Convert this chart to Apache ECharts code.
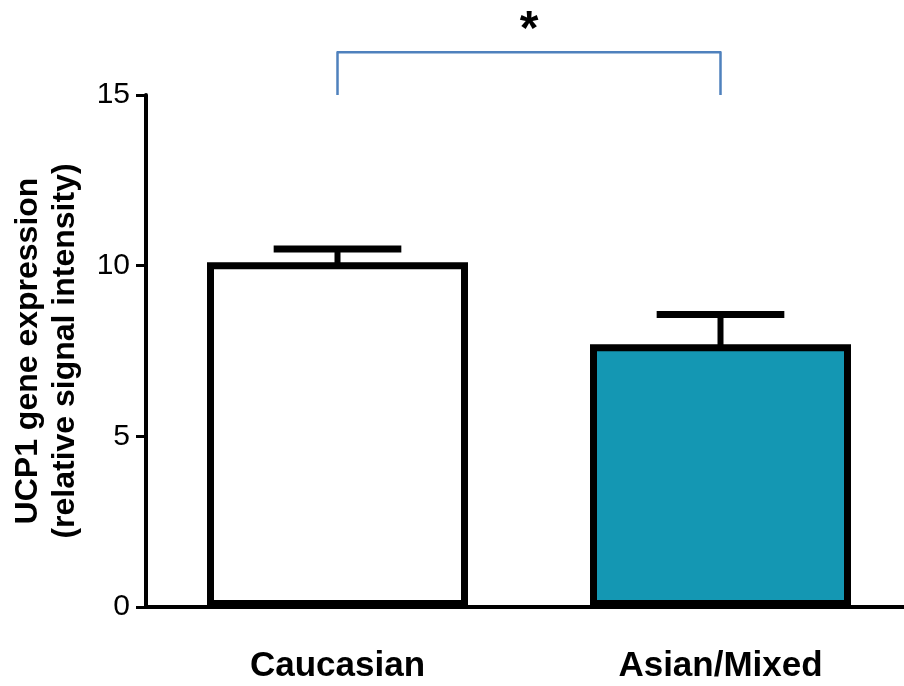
<!DOCTYPE html>
<html>
<head>
<meta charset="utf-8">
<script src="https://cdn.jsdelivr.net/npm/echarts@6/dist/echarts.min.js"></script>
<style>
  html, body { margin: 0; padding: 0; background: #fff; }
  #chart { width: 904px; height: 686px; }
</style>
</head>
<body>
<div id="chart"></div>
<script>
// data
const groups = ['Caucasian', 'Asian/Mixed'];
const means = [10.1, 7.7];
const sems = [0.39, 0.87];
const barFills = ['#ffffff', '#1497b3'];
const yTicks = [0, 5, 10, 15];
// significance bracket: from group 0 to group 1, legs start at 15, top at 16.25
const sigGroups = [0, 1];
const sigLevels = [15, 16.25];
const sigMark = '*';

const font = "'Liberation Sans', Arial, sans-serif";

const chart = echarts.init(document.getElementById('chart'));

chart.setOption({
  animation: false,
  backgroundColor: '#fff',
  grid: { left: 146, right: -8, top: 95, bottom: 79, outerBoundsMode: 'none', containLabel: false },
  xAxis: {
    type: 'category',
    data: groups,
    z: 5,
    axisLine: { show: true, lineStyle: { color: '#000', width: 4 } },
    axisTick: { show: false },
    axisLabel: {
      color: '#000',
      fontFamily: font,
      fontWeight: 'bold',
      fontSize: 35,
      margin: 42,
    },
  },
  yAxis: {
    type: 'value',
    min: yTicks[0],
    max: yTicks[yTicks.length - 1],
    interval: yTicks[1] - yTicks[0],
    name: 'UCP1 gene expression\n(relative signal intensity)',
    nameLocation: 'middle',
    nameGap: 62,
    nameTextStyle: {
      color: '#000',
      fontFamily: font,
      fontWeight: 'bold',
      fontSize: 32,
      lineHeight: 37,
    },
    axisLine: { show: true, lineStyle: { color: '#000', width: 4 } },
    axisTick: { show: true, length: 10, lineStyle: { color: '#000', width: 3 } },
    axisLabel: { color: '#000', fontFamily: font, fontSize: 30, margin: 16 },
    splitLine: { show: false },
  },
  series: [
    {
      type: 'bar',
      barWidth: 261,
      data: means.map((v, i) => ({
        value: v,
        itemStyle: { color: barFills[i], borderColor: '#000', borderWidth: 7 },
      })),
      z: 2,
    },
    {
      // error bars (mean + SEM, upper only)
      type: 'custom',
      z: 3,
      data: means.map((m, i) => [i, m, m + sems[i]]),
      renderItem: (params, api) => {
        const i = api.value(0);
        const base = api.coord([i, api.value(1)]);
        const top = api.coord([i, api.value(2)]);
        const band = api.size([1, 0])[0];
        const half = band / 6;
        return {
          type: 'group',
          children: [
            {
              type: 'line',
              shape: { x1: base[0], y1: base[1] + 4, x2: top[0], y2: top[1] },
              style: { stroke: '#000', lineWidth: 6 },
            },
            {
              type: 'line',
              shape: { x1: top[0] - half, y1: top[1], x2: top[0] + half, y2: top[1] },
              style: { stroke: '#000', lineWidth: 7 },
            },
          ],
        };
      },
    },
    {
      // significance bracket
      type: 'custom',
      z: 3,
      clip: false,
      data: [[sigGroups[0], sigGroups[1], sigLevels[0], sigLevels[1]]],
      renderItem: (params, api) => {
        const a0 = api.coord([api.value(0), api.value(2)]);
        const a1 = api.coord([api.value(0), api.value(3)]);
        const b1 = api.coord([api.value(1), api.value(3)]);
        const b0 = api.coord([api.value(1), api.value(2)]);
        return {
          type: 'group',
          children: [
            {
              type: 'polyline',
              shape: { points: [a0, a1, b1, b0] },
              style: { stroke: '#4f81bd', lineWidth: 2.5, fill: null, lineJoin: 'round' },
            },
            {
              type: 'text',
              style: {
                text: sigMark,
                x: (a1[0] + b1[0]) / 2,
                y: a1[1] - 22,
                align: 'center',
                verticalAlign: 'middle',
                font: 'bold 48px ' + font,
                fill: '#000',
              },
            },
          ],
        };
      },
    },
  ],
});
</script>
</body>
</html>
